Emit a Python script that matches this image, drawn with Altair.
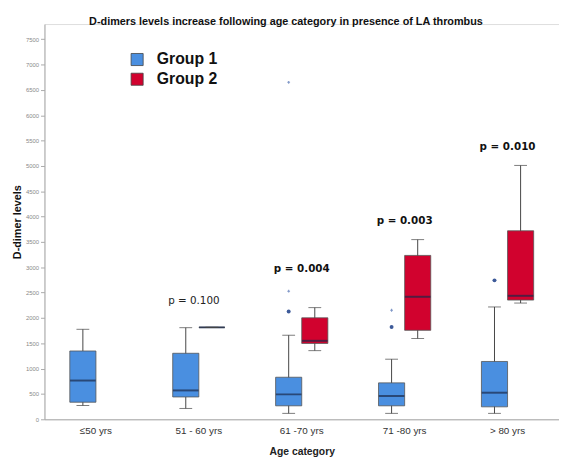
import altair as alt
import pandas as pd

categories = ["≤50 yrs", "51 - 60 yrs", "61 -70 yrs", "71 -80 yrs", "> 80 yrs"]
groups = ["Group 1", "Group 2"]

# Group 1 box statistics (per category)
g1_low = [272, 214, 117, 117, 117]
g1_q1 = [337, 441, 266, 266, 246]
g1_med = [765, 570, 492, 460, 525]
g1_q3 = [1348, 1303, 830, 719, 1141]
g1_high = [1776, 1808, 1659, 1186, 2217]

# Group 2 box statistics (no data for the first category)
g2_cats = ["51 - 60 yrs", "61 -70 yrs", "71 -80 yrs", "> 80 yrs"]
g2_low = [1814, 1355, 1594, 2294]
g2_q1 = [1814, 1497, 1756, 2353]
g2_med = [1814, 1549, 2418, 2437]
g2_q3 = [1814, 2003, 3234, 3720]
g2_high = [1814, 2204, 3546, 5010]

# Outliers
circ_cats = ["61 -70 yrs", "71 -80 yrs", "> 80 yrs"]
circ_vals = [2126, 1821, 2742]
star_cats = ["61 -70 yrs", "61 -70 yrs", "71 -80 yrs"]
star_vals = [2528, 6650, 2152]

# p-value annotations
p_cats = ["51 - 60 yrs", "61 -70 yrs", "71 -80 yrs", "> 80 yrs"]
p_text = ["p = 0.100", "p = 0.004", "p = 0.003", "p = 0.010"]
p_y = [2343, 2975, 3908, 5366]
p_bold = [False, True, True, True]

y_ticks = [0, 500, 1000, 1500, 2000, 2500, 3000, 3500, 4000, 4500,
           5000, 5500, 6000, 6500, 7000, 7500]

blue = "#4a8fe0"
red = "#d1022e"

rows = []
for i, c in enumerate(categories):
    rows.append(dict(cat=c, group="Group 1", low=g1_low[i], q1=g1_q1[i],
                     med=g1_med[i], q3=g1_q3[i], high=g1_high[i]))
for i, c in enumerate(g2_cats):
    rows.append(dict(cat=c, group="Group 2", low=g2_low[i], q1=g2_q1[i],
                     med=g2_med[i], q3=g2_q3[i], high=g2_high[i]))
box_df = pd.DataFrame(rows)

circ_df = pd.DataFrame({"cat": circ_cats, "group": "Group 1", "v": circ_vals})
star_df = pd.DataFrame({"cat": star_cats, "group": "Group 1", "v": star_vals})
p_df = pd.DataFrame({"cat": p_cats, "t": p_text, "v": p_y, "b": p_bold})

font = "Liberation Sans"

x_enc = alt.X("cat:N", sort=categories,
              scale=alt.Scale(domain=categories, paddingInner=0, paddingOuter=0),
              axis=alt.Axis(title="Age category", labelAngle=0, ticks=False,
                            labelFontSize=10, labelColor="#333", labelFont=font,
                            labelPadding=6, titleFont=font, titleFontSize=10.5,
                            titleFontWeight="bold", titleColor="#222",
                            titlePadding=12, domainColor="#aaa"))
xo_enc = alt.XOffset("group:N", scale=alt.Scale(domain=groups, paddingInner=0,
                                                paddingOuter=0.97))
y_scale = alt.Scale(domain=[0, 7800], nice=False, zero=True)
y_axis = alt.Axis(title="D-dimer levels", values=y_ticks, grid=False,
                  format="d", labelOverlap=False, tickCount=16,
                  labelFontSize=6, labelColor="#888", labelFont=font,
                  tickSize=4, tickColor="#aaa", domainColor="#aaa",
                  labelPadding=2, titleFont=font, titleFontSize=11,
                  titleFontWeight="bold", titleColor="#111", titlePadding=3)


def Y(field):
    return alt.Y(field, scale=y_scale, axis=y_axis)


base = alt.Chart(box_df)

whisk = base.mark_rule(color="#444", strokeWidth=1).encode(
    x=x_enc, xOffset=xo_enc, y=Y("low:Q"), y2="high:Q")

boxes = base.mark_bar(stroke="#555", strokeWidth=0.8).encode(
    x=x_enc, xOffset=xo_enc, y=Y("q1:Q"), y2="q3:Q",
    color=alt.Color("group:N", scale=alt.Scale(domain=groups, range=[blue, red]),
                    legend=alt.Legend(title=None, orient="none", legendX=86,
                                      legendY=28, symbolType="square",
                                      symbolSize=150, symbolStrokeColor="#444",
                                      symbolStrokeWidth=0.8, labelFontSize=16,
                                      labelFontWeight="bold", labelFont=font,
                                      labelColor="#111", rowPadding=4,
                                      labelOffset=12)))

med = base.mark_tick(color="#1b2a4a", thickness=2, size=26).encode(
    x=x_enc, xOffset=xo_enc, y=Y("med:Q"))

cap_lo = base.mark_tick(color="#444", thickness=1, size=13).encode(
    x=x_enc, xOffset=xo_enc, y=Y("low:Q"))
cap_hi = base.mark_tick(color="#444", thickness=1, size=13).encode(
    x=x_enc, xOffset=xo_enc, y=Y("high:Q"))

circles = alt.Chart(circ_df).mark_point(filled=True, size=16, color="#3d5a99",
                                        opacity=1).encode(
    x=x_enc, xOffset=xo_enc, y=Y("v:Q"))
stars = alt.Chart(star_df).mark_point(filled=True, shape="cross", size=8,
                                      color="#8098c8", opacity=1).encode(
    x=x_enc, xOffset=xo_enc, y=Y("v:Q"))

p_norm = alt.Chart(p_df).transform_filter("!datum.b").mark_text(
    font="DejaVu Sans", fontSize=10.5, color="#222", dx=-5).encode(
    x=x_enc, y=Y("v:Q"), text="t:N")
p_bold_l = alt.Chart(p_df).transform_filter("datum.b").mark_text(
    font="DejaVu Sans", fontSize=10.5, fontWeight="bold", color="#111").encode(
    x=x_enc, y=Y("v:Q"), text="t:N")

chart = alt.layer(whisk, boxes, med, cap_lo, cap_hi, circles, stars,
                  p_norm, p_bold_l).properties(
    width=522, height=401,
    title=alt.TitleParams(
        "D-dimers levels increase following age category in presence of LA thrombus",
        font=font, fontSize=11, fontWeight="bold", color="#111",
        anchor="middle", dx=-16, offset=-3),
    autosize=alt.AutoSizeParams(type="none"),
    padding={"left": 37, "top": 13, "right": 0, "bottom": 37},
).resolve_axis(y="shared").configure_view(stroke=None).configure(background="white")

chart.save("out.html", embed_options={"renderer": "svg", "actions": False})
